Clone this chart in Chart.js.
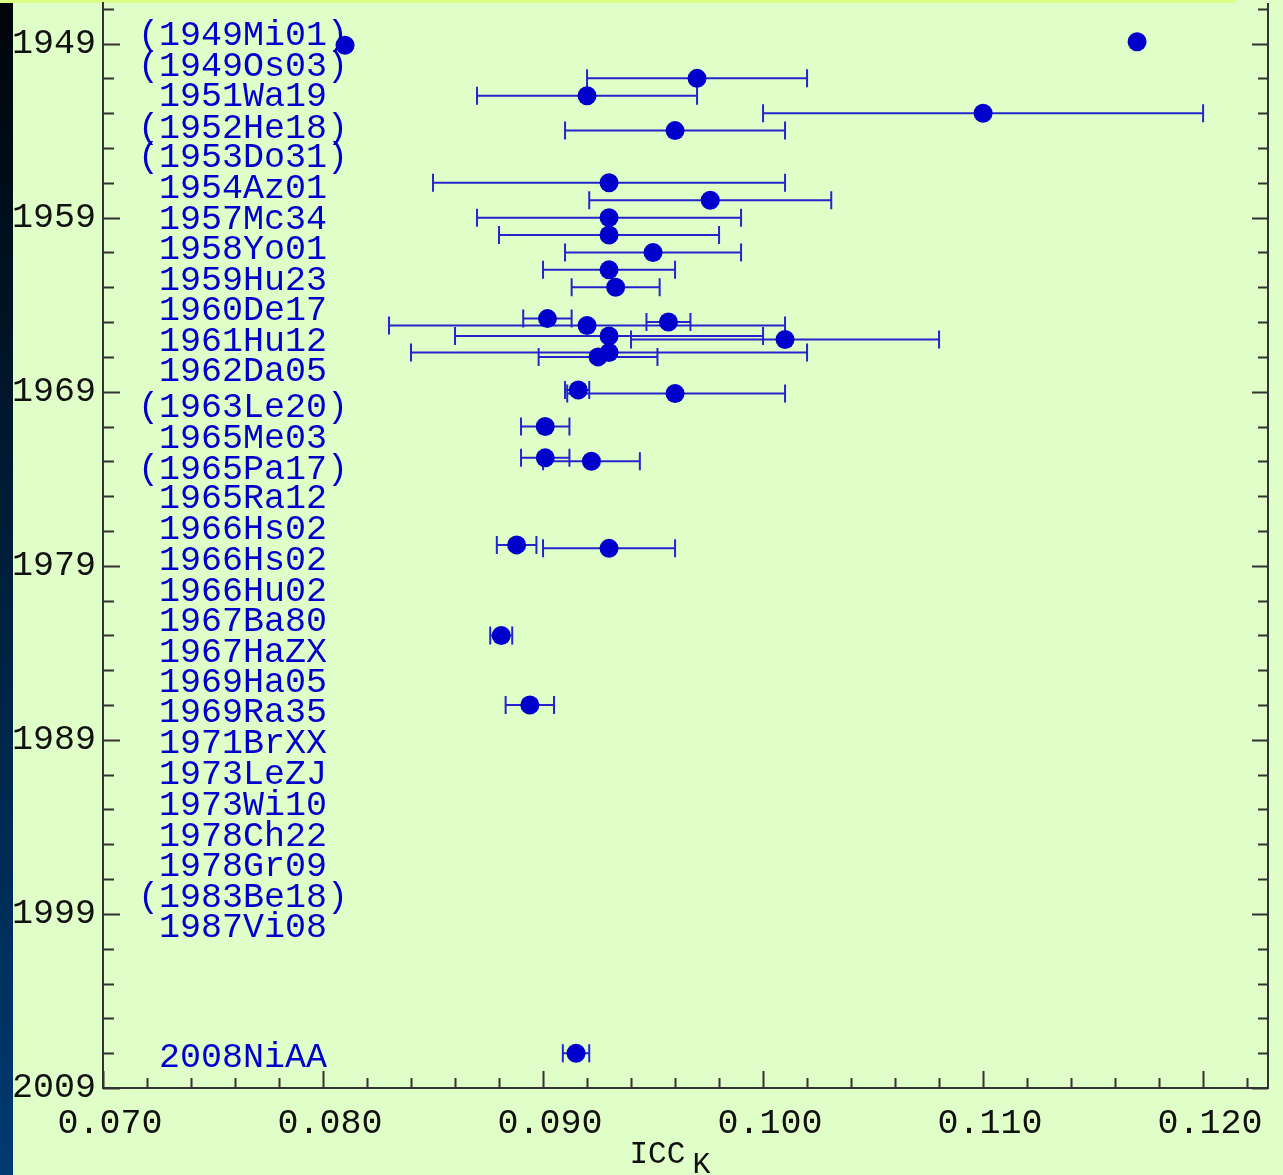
<!DOCTYPE html>
<html>
<head>
<meta charset="utf-8">
<script src="https://cdn.jsdelivr.net/npm/chart.js@4.4.1/dist/chart.umd.min.js"></script>
<style>
  html, body { margin: 0; padding: 0; background: #e0ffc8; }
  #wrap { position: relative; width: 1283px; height: 1175px; overflow: hidden; }
  #topBar { position: absolute; left: 0; top: 0; width: 1236px; height: 3px; background: #dcff88; }
  #sideBar { position: absolute; left: 0; top: 3px; width: 13px; height: 1172px;
             background: linear-gradient(to bottom, #000509, #003a72); }
  #iccChart { position: absolute; left: 0; top: 0; }
</style>
</head>
<body>
<div id="wrap">
  <div id="topBar"></div>
  <div id="sideBar"></div>
  <canvas id="iccChart" width="1283" height="1175"></canvas>
</div>
<script>
// reference keys shown down the left side, and the year each one sits at
const refLabels = [
  '(1949Mi01)', '(1949Os03)', '1951Wa19', '(1952He18)', '(1953Do31)', '1954Az01',
  '1957Mc34', '1958Yo01', '1959Hu23', '1960De17', '1961Hu12', '1962Da05',
  '(1963Le20)', '1965Me03', '(1965Pa17)', '1965Ra12', '1966Hs02', '1966Hs02',
  '1966Hu02', '1967Ba80', '1967HaZX', '1969Ha05', '1969Ra35', '1971BrXX',
  '1973LeZJ', '1973Wi10', '1978Ch22', '1978Gr09', '(1983Be18)', '1987Vi08', '2008NiAA'
];
const refLabelYears = [
  1948.45, 1950.18, 1951.91, 1953.75, 1955.42, 1957.20,
  1958.98, 1960.71, 1962.49, 1964.21, 1966.00, 1967.72,
  1969.80, 1971.55, 1973.36, 1975.03, 1976.81, 1978.60,
  1980.38, 1982.11, 1983.89, 1985.61, 1987.34, 1989.12,
  1990.90, 1992.63, 1994.41, 1996.14, 1997.92, 1999.64, 2007.14
];

// measured ICC_K values (year, value, lower/upper end of error bar)
const pointYears = [
  1948.9, 1949.1, 1951.0, 1952.0, 1953.0, 1954.0, 1957.0, 1958.0, 1959.0, 1960.0,
  1961.0, 1962.0, 1963.0, 1964.8, 1965.0, 1965.2, 1965.8, 1966.0, 1966.75, 1967.0,
  1968.9, 1969.1, 1971.0, 1972.8, 1973.0, 1977.8, 1978.0, 1983.0, 1987.0, 2007.0
];
const iccValues = [
  0.117, 0.081, 0.097, 0.092, 0.110, 0.096, 0.093, 0.0976, 0.093, 0.093,
  0.095, 0.093, 0.0933, 0.0902, 0.0957, 0.092, 0.093, 0.101, 0.093, 0.0925,
  0.0916, 0.096, 0.0901, 0.0901, 0.0922, 0.0888, 0.093, 0.0881, 0.0894, 0.0915
];
const errLow = [
  null, null, 0.092, 0.087, 0.100, 0.091, 0.085, 0.0921, 0.087, 0.088,
  0.091, 0.090, 0.0913, 0.0891, 0.0947, 0.083, 0.086, 0.094, 0.084, 0.0898,
  0.0910, 0.0911, 0.0890, 0.0890, 0.0900, 0.0879, 0.090, 0.0876, 0.0883, 0.0909
];
const errHigh = [
  null, null, 0.102, 0.097, 0.120, 0.101, 0.101, 0.1031, 0.099, 0.098,
  0.099, 0.096, 0.0953, 0.0913, 0.0967, 0.101, 0.100, 0.108, 0.102, 0.0952,
  0.0921, 0.101, 0.0912, 0.0912, 0.0944, 0.0897, 0.096, 0.0886, 0.0905, 0.0921
];

const yearTicks = [1949, 1959, 1969, 1979, 1989, 1999, 2009];
const iccTicks = [0.070, 0.080, 0.090, 0.100, 0.110, 0.120];

const LABEL_X = 0.07636;   // centre of the reference key column
const FONT = '"Liberation Mono", "Courier New", monospace';
const AXIS = '#333333';

// ticks point inward on left, right and bottom sides
function drawInnerTicks(ctx, chart) {
  const xs = chart.scales.x, ys = chart.scales.y, a = chart.chartArea;
  ctx.strokeStyle = AXIS;
  ctx.lineWidth = 2;
  ctx.beginPath();
  for (let yr = 1947; yr <= 2009; yr += 2) {
    const py = Math.round(ys.getPixelForValue(yr)) + 0.5;
    const major = (yr - 1949) % 10 === 0;
    ctx.moveTo(a.left, py); ctx.lineTo(a.left + (major ? 17 : 11), py);
    ctx.moveTo(a.right, py); ctx.lineTo(a.right - (major ? 16 : 10), py);
  }
  for (let i = 0; i <= 26; i++) {
    const v = 0.070 + i * 0.002;
    const px = Math.round(xs.getPixelForValue(v)) + 0.5;
    const major = i % 5 === 0;
    ctx.moveTo(px, a.bottom); ctx.lineTo(px, a.bottom - (major ? 17 : 10));
  }
  // right frame line
  ctx.moveTo(a.right, a.top); ctx.lineTo(a.right, a.bottom + 1);
  ctx.stroke();
}

const decorations = {
  id: 'decorations',
  beforeDatasetsDraw(chart) {
    const ctx = chart.ctx, xs = chart.scales.x, ys = chart.scales.y;
    ctx.save();
    ctx.font = '35px ' + FONT;
    ctx.fillStyle = '#0000cc';
    ctx.textAlign = 'center';
    ctx.textBaseline = 'alphabetic';
    const lx = xs.getPixelForValue(LABEL_X);
    refLabels.forEach((t, i) => {
      ctx.fillText(t, lx, ys.getPixelForValue(refLabelYears[i]) + 11.5);
    });

    // horizontal error bars with end caps
    ctx.strokeStyle = '#2424cc';
    ctx.lineWidth = 2;
    pointYears.forEach((yr, i) => {
      if (errLow[i] == null) return;
      const py = ys.getPixelForValue(yr);
      const x0 = xs.getPixelForValue(errLow[i]);
      const x1 = xs.getPixelForValue(errHigh[i]);
      ctx.beginPath();
      ctx.moveTo(x0, py); ctx.lineTo(x1, py);
      ctx.moveTo(x0, py - 9); ctx.lineTo(x0, py + 9);
      ctx.moveTo(x1, py - 9); ctx.lineTo(x1, py + 9);
      ctx.stroke();
    });
    ctx.restore();
  },
  afterDraw(chart) {
    const ctx = chart.ctx, a = chart.chartArea;
    ctx.save();
    drawInnerTicks(ctx, chart);

    // axis title ICC with subscript K
    const cx = (a.left + a.right) / 2;
    ctx.fillStyle = '#111111';
    ctx.textAlign = 'left';
    ctx.textBaseline = 'alphabetic';
    ctx.font = '31px ' + FONT;
    ctx.fillText('ICC', cx - 56, 1163);
    ctx.font = '30px ' + FONT;
    ctx.fillText('K', cx + 7, 1173);
    ctx.restore();
  }
};

const ctx = document.getElementById('iccChart').getContext('2d');

new Chart(ctx, {
  type: 'scatter',
  data: {
    datasets: [{
      data: pointYears.map((yr, i) => ({ x: iccValues[i], y: yr })),
      pointRadius: 9.5,
      pointHoverRadius: 9.5,
      pointBackgroundColor: '#0000cc',
      pointBorderWidth: 0,
      showLine: false
    }]
  },
  options: {
    responsive: false,
    animation: false,
    events: [],
    layout: { autoPadding: false, padding: { top: 3, right: 15, left: 0, bottom: 0 } },
    plugins: {
      legend: { display: false },
      tooltip: { enabled: false }
    },
    scales: {
      x: {
        type: 'linear',
        min: 0.070,
        max: 0.12295,
        afterBuildTicks: s => { s.ticks = iccTicks.map(v => ({ value: v })); },
        afterFit: s => { s.height = 87; s.paddingLeft = 0; s.paddingRight = 0; },
        grid: { display: false, drawTicks: false },
        border: { color: AXIS, width: 2 },
        ticks: {
          autoSkip: false,
          maxRotation: 0,
          labelOffset: 7,
          padding: 15,
          color: '#111111',
          font: { family: FONT, size: 35 },
          callback: v => v.toFixed(3)
        }
      },
      y: {
        type: 'linear',
        reverse: true,
        min: 1946.67,
        max: 2009,
        afterBuildTicks: s => { s.ticks = yearTicks.map(v => ({ value: v })); },
        afterFit: s => { s.width = 103; s.paddingTop = 0; s.paddingBottom = 0; },
        grid: { display: false, drawTicks: false },
        border: { color: AXIS, width: 2 },
        ticks: {
          autoSkip: false,
          padding: 7,
          color: '#111111',
          font: { family: FONT, size: 35 },
          callback: v => String(v)
        }
      }
    }
  },
  plugins: [decorations]
});
</script>
</body>
</html>
